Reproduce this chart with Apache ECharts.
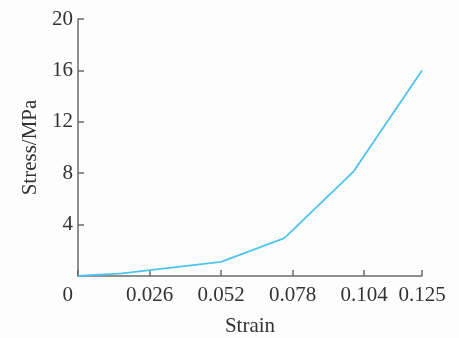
<!DOCTYPE html>
<html>
<head>
<meta charset="utf-8">
<script src="https://cdn.jsdelivr.net/npm/echarts@6/dist/echarts.min.js"></script>
<style>
  html, body { margin: 0; padding: 0; background: #fdfdfd; }
  #chart { width: 459px; height: 338px; }
</style>
</head>
<body>
<div id="chart"></div>
<script>
// values
const strain = [0, 0.016, 0.052, 0.075, 0.1, 0.125];
const stress = [0, 0.2, 1.1, 2.95, 8.1, 16];

const axisColor = '#6b6b6b';
const font = '"Liberation Serif", "Times New Roman", serif';

const chart = echarts.init(document.getElementById('chart'));

chart.setOption({
    backgroundColor: '#fdfdfd',
    animation: false,
    grid: {
        left: 78,
        right: 37,
        top: 19,
        bottom: 62,
        outerBoundsMode: 'none'
    },
    xAxis: {
        type: 'value',
        min: 0,
        max: 0.125,
        interval: 0.026,
        name: 'Strain',
        nameLocation: 'middle',
        nameGap: 40,
        nameTextStyle: { color: '#333', fontFamily: font, fontSize: 21 },
        axisLine: { lineStyle: { color: axisColor, width: 1.5 } },
        axisTick: { inside: true, length: 6, lineStyle: { color: axisColor, width: 1.5 } },
        splitLine: { show: false },
        axisLabel: {
            color: '#333',
            fontFamily: font,
            fontSize: 21,
            margin: 9,
            alignMinLabel: 'right',
            formatter: (v) => v === 0 ? '{z|0}' : String(+v.toFixed(3)),
            rich: { z: { padding: [0, 5, 0, 0], fontFamily: font, fontSize: 21, color: '#333' } }
        }
    },
    yAxis: {
        type: 'value',
        min: 0,
        max: 20,
        interval: 4,
        name: 'Stress/MPa',
        nameLocation: 'middle',
        nameRotate: 90,
        nameGap: 37,
        nameTextStyle: { color: '#333', fontFamily: font, fontSize: 21 },
        axisLine: { show: true, lineStyle: { color: axisColor, width: 1.5 } },
        axisTick: { show: true, inside: true, length: 6, lineStyle: { color: axisColor, width: 1.5 } },
        splitLine: { show: false },
        axisLabel: {
            color: '#333',
            fontFamily: font,
            fontSize: 21,
            margin: 5,
            formatter: (v) => v === 0 ? '' : String(v)
        }
    },
    series: [
        {
            type: 'line',
            data: strain.map((x, i) => [x, stress[i]]),
            showSymbol: false,
            lineStyle: { color: '#4fc3ee', width: 1.8 },
            itemStyle: { color: '#4fc3ee' }
        }
    ]
});
</script>
</body>
</html>
